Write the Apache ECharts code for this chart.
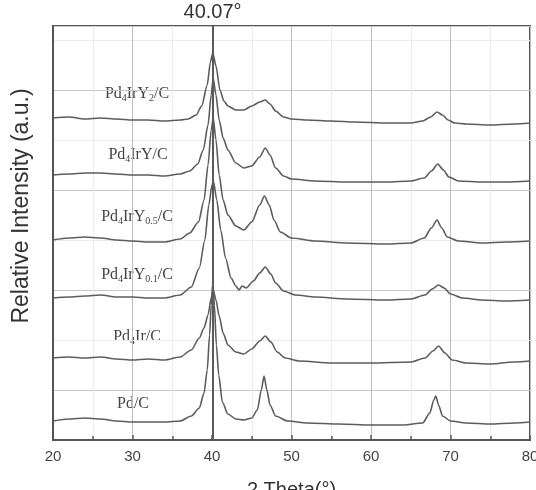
<!DOCTYPE html>
<html>
<head>
<meta charset="utf-8">
<script src="https://cdn.jsdelivr.net/npm/echarts@6/dist/echarts.min.js"></script>
<style>
  html, body { margin: 0; padding: 0; background: #fff; }
  #chart { width: 536px; height: 490px; }
</style>
</head>
<body>
<div id="chart"></div>
<script>
// 2 theta (deg) vs relative intensity (a.u., stacked offsets)
var pd4IrY2 = [[20, 322], [22, 323], [24, 321], [26, 322], [28, 321], [30, 320], [32, 320], [34, 319], [36, 320], [37, 321],
  [38, 325], [38.7, 334], [39.4, 355], [39.8, 378], [40.1, 387], [40.5, 374], [41, 350], [41.5, 339], [42, 334], [43, 330],
  [44, 330], [45, 334], [46, 338], [46.7, 340], [47.3, 336], [48, 329], [49, 323], [50, 321], [52, 320], [55, 319],
  [58, 318], [62, 317], [65, 317], [66.5, 319], [67.5, 323], [68.3, 328], [69, 325], [69.7, 320], [70.5, 317], [72, 316],
  [75, 315], [78, 316], [80, 317]];
var pd4IrY = [[20, 265], [22, 266], [24, 267], [26, 267], [28, 266], [30, 265], [32, 265], [34, 264], [36, 266], [37.2, 269],
  [38.2, 276], [38.9, 290], [39.5, 315], [39.9, 345], [40.15, 362], [40.5, 345], [40.9, 320], [41.4, 302], [42, 290], [43, 277],
  [44, 272], [45, 274], [46, 283], [46.7, 292], [47.3, 285], [48, 272], [49, 264], [50, 261], [53, 259], [57, 258],
  [62, 258], [65, 259], [66.7, 262], [67.6, 269], [68.4, 276], [69.1, 270], [69.8, 263], [71, 259], [74, 258], [77, 258],
  [80, 259]];
var pd4IrY05 = [[20, 200], [22, 202], [24, 203], [26, 202], [28, 200], [30, 199], [32, 198], [34, 198], [36, 201], [37.2, 207],
  [38.3, 218], [39, 240], [39.5, 275], [39.9, 310], [40.15, 322], [40.5, 300], [40.9, 265], [41.4, 240], [42, 225], [43, 214],
  [44, 210], [45, 218], [46, 235], [46.6, 244], [47.2, 235], [47.8, 220], [48.6, 208], [50, 202], [53, 199], [57, 197],
  [62, 196], [65, 197], [66.7, 202], [67.6, 212], [68.3, 220], [68.9, 212], [69.6, 203], [71, 199], [74, 197], [77, 198],
  [80, 199]];
var pd4IrY01 = [[20, 142], [22, 143], [24, 144], [26, 145], [28, 143], [30, 143], [32, 142], [34, 142], [36, 145], [37.4, 153],
  [38.4, 172], [39.1, 200], [39.6, 235], [40, 255], [40.2, 258], [40.6, 240], [41.1, 210], [41.7, 182], [42.4, 162], [43, 154],
  [43.4, 150], [43.8, 154], [44.3, 152], [45.2, 159], [46, 167], [46.7, 173], [47.4, 166], [48, 157], [49, 149], [50.5, 145],
  [53, 143], [57, 141], [62, 140], [65, 141], [66.8, 145], [67.7, 151], [68.5, 155], [69.2, 152], [70, 146], [71.5, 142],
  [74, 140], [77, 139], [80, 140]];
var pd4Ir = [[20, 82], [22, 83], [24, 82], [26, 83], [28, 81], [30, 80], [32, 81], [34, 80], [36, 83], [37.4, 90],
  [38.4, 102], [39, 112], [39.5, 125], [39.9, 142], [40.15, 150], [40.5, 140], [40.9, 124], [41.4, 107], [42, 95], [43, 88],
  [44, 86], [45, 91], [46, 99], [46.7, 104], [47.4, 98], [48.2, 88], [49.2, 82], [51, 79], [55, 77], [60, 77],
  [65, 78], [66.8, 82], [67.8, 89], [68.5, 94], [69.3, 87], [70.2, 80], [72, 77], [75, 76], [78, 78], [80, 79]];
var pdC = [[20, 19], [22, 21], [24, 22], [26, 21], [28, 19], [30, 18], [32, 18], [34, 18], [36, 19], [37.4, 24],
  [38.4, 32], [39, 47], [39.4, 70], [39.7, 105], [39.9, 135], [40.1, 157], [40.3, 135], [40.55, 95], [40.85, 65], [41.3, 38],
  [42, 26], [43, 21], [44, 20], [45, 22], [45.7, 30], [46.2, 50], [46.55, 64], [46.9, 50], [47.3, 35], [48, 24],
  [49.5, 19], [52, 17], [56, 16], [60, 15], [64, 15], [66.5, 17], [67.4, 27], [67.9, 40], [68.15, 44], [68.5, 35],
  [69, 24], [70, 19], [72, 17], [75, 16], [78, 17], [80, 18]];

var traces = [pd4IrY2, pd4IrY, pd4IrY05, pd4IrY01, pd4Ir, pdC];
var traceNames = ['Pd4IrY2/C', 'Pd4IrY/C', 'Pd4IrY0.5/C', 'Pd4IrY0.1/C', 'Pd4Ir/C', 'Pd/C'];
var traceLabels = ['Pd{s|4}IrY{s|2}/C', 'Pd{s|4}IrY/C', 'Pd{s|4}IrY{s|0.5}/C', 'Pd{s|4}IrY{s|0.1}/C', 'Pd{s|4}Ir/C', 'Pd/C'];
var labelPos = [[137, 94], [138, 155], [137, 217], [137, 275], [137, 337], [133, 404]];
var refPeak = 40.07;

var chart = echarts.init(document.getElementById('chart'));

var series = traces.map(function (d, i) {
  var s = {
    name: traceNames[i],
    type: 'line',
    data: d,
    symbol: 'none',
    smooth: 0.25,
    smoothMonotone: 'x',
    lineStyle: { color: '#5c5c5c', width: 1.6 }
  };
  if (i === 0) {
    s.markLine = {
      silent: true,
      symbol: 'none',
      lineStyle: { color: '#5a5a5a', width: 2, type: 'solid' },
      label: {
        show: true,
        position: 'end',
        distance: 4,
        formatter: refPeak.toFixed(2) + '°',
        fontFamily: 'Liberation Sans, Arial, sans-serif',
        fontSize: 20,
        color: '#333'
      },
      data: [{ xAxis: refPeak }]
    };
  }
  return s;
});

var graphics = traceLabels.map(function (t, i) {
  return {
    type: 'text',
    x: labelPos[i][0],
    y: labelPos[i][1],
    style: {
      text: t,
      align: 'center',
      verticalAlign: 'middle',
      fontFamily: 'Liberation Serif, Times New Roman, serif',
      fontSize: 16,
      fill: '#444',
      rich: {
        s: { fontFamily: 'Liberation Serif, Times New Roman, serif', fontSize: 10, fill: '#444', padding: [9, 0, 0, 0] }
      }
    }
  };
});
graphics.push({
  type: 'text',
  x: 22,
  y: 206,
  rotation: Math.PI / 2,
  style: {
    text: 'Relative Intensity (a.u.)',
    align: 'center',
    verticalAlign: 'middle',
    fontFamily: 'Liberation Sans, Arial, sans-serif',
    fontSize: 23,
    fill: '#333'
  }
});

var option = {
  backgroundColor: '#fff',
  animation: false,
  grid: {
    left: 53,
    right: 6,
    top: 26,
    bottom: 50,
    outerBoundsMode: 'none',
    containLabel: false,
    show: true,
    borderColor: '#555',
    borderWidth: 2
  },
  xAxis: {
    type: 'value',
    min: 20,
    max: 80,
    interval: 10,
    name: '2 Theta(°)',
    nameLocation: 'middle',
    nameGap: 40,
    nameTextStyle: { fontFamily: 'Liberation Sans, Arial, sans-serif', fontSize: 20, color: '#333' },
    axisLine: { show: true, lineStyle: { color: '#555', width: 2 } },
    axisTick: { show: true, inside: true, length: 5, lineStyle: { color: '#555', width: 1.5 } },
    minorTick: { show: true, splitNumber: 2, length: 4, lineStyle: { color: '#555', width: 1.5 } },
    axisLabel: {
      margin: 9,
      fontFamily: 'Liberation Sans, Arial, sans-serif',
      fontSize: 15,
      color: '#444'
    },
    splitLine: { show: true, lineStyle: { color: '#bdbdbd', width: 1 } },
    minorSplitLine: { show: true, lineStyle: { color: '#ececec', width: 1 } }
  },
  yAxis: {
    type: 'value',
    min: 0,
    max: 414,
    interval: 50,
    axisLine: { show: true, lineStyle: { color: '#555', width: 2 } },
    axisTick: { show: false },
    axisLabel: { show: false },
    splitLine: { show: true, lineStyle: { color: ['#ececec', '#c8c8c8'], width: 1 } }
  },
  graphic: graphics,
  series: series
};

option && chart.setOption(option);
</script>
</body>
</html>
